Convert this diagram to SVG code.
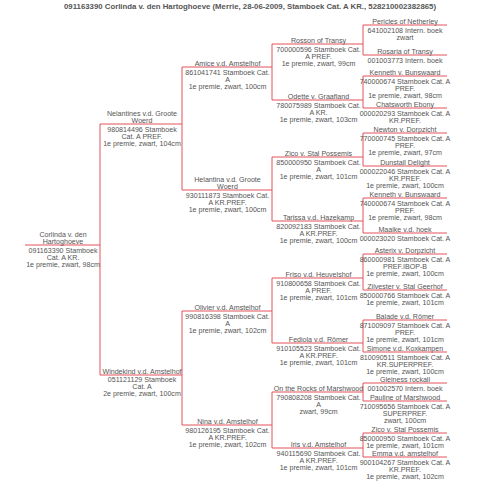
<svg xmlns="http://www.w3.org/2000/svg" width="480" height="490" viewBox="0 0 480 490">
<style>
text{font-family:"Liberation Sans",Arial,sans-serif;font-size:7.1px;fill:#555;text-anchor:middle}
.t{font-weight:bold;font-size:7.8px}
.c line{stroke:#e4535c;stroke-width:1}
</style>
<rect width="480" height="490" fill="#fff"/>
<text class="t" x="250" y="8.6">091163390 Corlinda v. den Hartoghoeve (Merrie, 28-06-2009, Stamboek Cat. A KR., 528210002382865)</text>
<g class="c" id="connectors">
<line x1="25" y1="245" x2="100" y2="245"/>
<line x1="100" y1="124" x2="100" y2="375"/>
<line x1="100" y1="124" x2="182" y2="124"/>
<line x1="100" y1="375" x2="182" y2="375"/>
<line x1="182" y1="67" x2="182" y2="190"/>
<line x1="182" y1="311" x2="182" y2="425"/>
<line x1="182" y1="67" x2="272" y2="67"/>
<line x1="182" y1="190" x2="272" y2="190"/>
<line x1="182" y1="311" x2="272" y2="311"/>
<line x1="182" y1="425" x2="272" y2="425"/>
<line x1="272" y1="44" x2="272" y2="100"/>
<line x1="272" y1="157" x2="272" y2="221"/>
<line x1="272" y1="278" x2="272" y2="343"/>
<line x1="272" y1="392" x2="272" y2="448"/>
<line x1="272" y1="44" x2="363" y2="44"/>
<line x1="272" y1="100" x2="363" y2="100"/>
<line x1="272" y1="157" x2="363" y2="157"/>
<line x1="272" y1="221" x2="363" y2="221"/>
<line x1="272" y1="278" x2="363" y2="278"/>
<line x1="272" y1="343" x2="363" y2="343"/>
<line x1="272" y1="392" x2="363" y2="392"/>
<line x1="272" y1="448" x2="363" y2="448"/>
<line x1="363" y1="25" x2="363" y2="55"/>
<line x1="363" y1="76" x2="363" y2="108"/>
<line x1="363" y1="133" x2="363" y2="166"/>
<line x1="363" y1="198" x2="363" y2="233"/>
<line x1="363" y1="254" x2="363" y2="290"/>
<line x1="363" y1="320" x2="363" y2="352"/>
<line x1="363" y1="383" x2="363" y2="401"/>
<line x1="363" y1="433" x2="363" y2="457"/>
<line x1="363" y1="25" x2="447" y2="25"/>
<line x1="363" y1="55" x2="447" y2="55"/>
<line x1="363" y1="76" x2="447" y2="76"/>
<line x1="363" y1="108" x2="447" y2="108"/>
<line x1="363" y1="133" x2="447" y2="133"/>
<line x1="363" y1="166" x2="447" y2="166"/>
<line x1="363" y1="198" x2="447" y2="198"/>
<line x1="363" y1="233" x2="447" y2="233"/>
<line x1="363" y1="254" x2="447" y2="254"/>
<line x1="363" y1="290" x2="447" y2="290"/>
<line x1="363" y1="320" x2="447" y2="320"/>
<line x1="363" y1="352" x2="447" y2="352"/>
<line x1="363" y1="383" x2="447" y2="383"/>
<line x1="363" y1="401" x2="447" y2="401"/>
<line x1="363" y1="433" x2="447" y2="433"/>
<line x1="363" y1="457" x2="447" y2="457"/>
</g>
<g id="corlinda"><text x="63" y="237.2">Corlinda v. den</text><text x="63" y="244">Hartoghoeve</text><text x="63" y="253">091163390 Stamboek</text><text x="63" y="259.8">Cat. A KR.</text><text x="63" y="266.6">1e premie, zwart, 98cm</text></g>
<g id="nelantines"><text x="142" y="116.2">Nelantines v.d. Groote</text><text x="142" y="123">Woerd</text><text x="142" y="132">980814496 Stamboek</text><text x="142" y="138.8">Cat. A PREF.</text><text x="142" y="145.6">1e premie, zwart, 104cm</text></g>
<g id="windekind"><text x="142" y="374">Windekind v.d. Amstelhof</text><text x="142" y="382">051121129 Stamboek</text><text x="142" y="388.8">Cat. A</text><text x="142" y="395.6">2e premie, zwart, 100cm</text></g>
<g id="amice"><text x="227.5" y="66">Amice v.d. Amstelhof</text><text x="227.5" y="75">861041741 Stamboek Cat.</text><text x="227.5" y="81.8">A</text><text x="227.5" y="88.6">1e premie, zwart, 100cm</text></g>
<g id="helantina"><text x="227.5" y="182.2">Helantina v.d. Groote</text><text x="227.5" y="189">Woerd</text><text x="227.5" y="198">930111873 Stamboek Cat.</text><text x="227.5" y="204.8">A KR.PREF.</text><text x="227.5" y="211.6">1e premie, zwart, 100cm</text></g>
<g id="olivier"><text x="227.5" y="310">Olivier v.d. Amstelhof</text><text x="227.5" y="319">990816398 Stamboek Cat.</text><text x="227.5" y="325.8">A</text><text x="227.5" y="332.6">1e premie, zwart, 102cm</text></g>
<g id="nina"><text x="227.5" y="424">Nina v.d. Amstelhof</text><text x="227.5" y="433">980126195 Stamboek Cat.</text><text x="227.5" y="439.8">A KR.PREF.</text><text x="227.5" y="446.6">1e premie, zwart, 102cm</text></g>
<g id="rosson"><text x="318.5" y="43">Rosson of Transy</text><text x="318.5" y="52">700000596 Stamboek Cat.</text><text x="318.5" y="58.8">A PREF.</text><text x="318.5" y="65.6">1e premie, zwart, 99cm</text></g>
<g id="odette"><text x="318.5" y="99">Odette v. Graafland</text><text x="318.5" y="108">780075989 Stamboek Cat.</text><text x="318.5" y="114.8">A KR.</text><text x="318.5" y="121.6">1e premie, zwart, 103cm</text></g>
<g id="zico"><text x="318.5" y="156">Zico v. Stal Possemis</text><text x="318.5" y="165">850000950 Stamboek Cat.</text><text x="318.5" y="171.8">A</text><text x="318.5" y="178.6">1e premie, zwart, 101cm</text></g>
<g id="tarissa"><text x="318.5" y="220">Tarissa v.d. Hazekamp</text><text x="318.5" y="229">820092183 Stamboek Cat.</text><text x="318.5" y="235.8">A KR.PREF.</text><text x="318.5" y="242.6">1e premie, zwart, 100cm</text></g>
<g id="friso"><text x="318.5" y="277">Friso v.d. Heuvelshof</text><text x="318.5" y="286">910800658 Stamboek Cat.</text><text x="318.5" y="292.8">A PREF.</text><text x="318.5" y="299.6">1e premie, zwart, 101cm</text></g>
<g id="fediola"><text x="318.5" y="342">Fediola v.d. Römer</text><text x="318.5" y="351">910105523 Stamboek Cat.</text><text x="318.5" y="357.8">A KR.PREF.</text><text x="318.5" y="364.6">1e premie, zwart, 101cm</text></g>
<g id="ontherocks"><text x="318.5" y="391">On the Rocks of Marshwood</text><text x="318.5" y="400">790808208 Stamboek Cat.</text><text x="318.5" y="406.8">A</text><text x="318.5" y="413.6">zwart, 99cm</text></g>
<g id="iris"><text x="318.5" y="447">Iris v.d. Amstelhof</text><text x="318.5" y="456">940115690 Stamboek Cat.</text><text x="318.5" y="462.8">A KR.PREF.</text><text x="318.5" y="469.6">1e premie, zwart, 101cm</text></g>
<g id="pericles"><text x="405" y="24">Pericles of Netherley</text><text x="405" y="33">641002108 Intern. boek</text><text x="405" y="39.8">zwart</text></g>
<g id="rosaria"><text x="405" y="54">Rosaria of Transy</text><text x="405" y="63">001003773 Intern. boek</text></g>
<g id="kenneth1"><text x="405" y="75">Kenneth v. Bunswaard</text><text x="405" y="84">740000674 Stamboek Cat. A</text><text x="405" y="90.8">PREF.</text><text x="405" y="97.6">1e premie, zwart, 98cm</text></g>
<g id="chatsworth"><text x="405" y="107">Chatsworth Ebony</text><text x="405" y="116">000020293 Stamboek Cat. A</text><text x="405" y="122.8">KR.PREF.</text></g>
<g id="newton"><text x="405" y="132">Newton v. Dorpzicht</text><text x="405" y="141">770000745 Stamboek Cat. A</text><text x="405" y="147.8">PREF.</text><text x="405" y="154.6">1e premie, zwart, 97cm</text></g>
<g id="dunstall"><text x="405" y="165">Dunstall Delight</text><text x="405" y="174">000022046 Stamboek Cat. A</text><text x="405" y="180.8">KR.PREF.</text><text x="405" y="187.6">1e premie, zwart, 100cm</text></g>
<g id="kenneth2"><text x="405" y="197">Kenneth v. Bunswaard</text><text x="405" y="206">740000674 Stamboek Cat. A</text><text x="405" y="212.8">PREF.</text><text x="405" y="219.6">1e premie, zwart, 98cm</text></g>
<g id="maaike"><text x="405" y="232">Maaike v.d. hoek</text><text x="405" y="241">000023020 Stamboek Cat. A</text></g>
<g id="asterix"><text x="405" y="253">Asterix v. Dorpzicht</text><text x="405" y="262">860000981 Stamboek Cat. A</text><text x="405" y="268.8">PREF.IBOP-B</text><text x="405" y="275.6">1e premie, zwart, 100cm</text></g>
<g id="zilvester"><text x="405" y="289">Zilvester v. Stal Geerhof</text><text x="405" y="298">850000766 Stamboek Cat. A</text><text x="405" y="304.8">1e premie, zwart, 101cm</text></g>
<g id="balade"><text x="405" y="319">Balade v.d. Römer</text><text x="405" y="328">871009097 Stamboek Cat. A</text><text x="405" y="334.8">PREF.</text><text x="405" y="341.6">1e premie, zwart, 101cm</text></g>
<g id="simone"><text x="405" y="351">Simone v.d. Koxkampen</text><text x="405" y="360">810090511 Stamboek Cat. A</text><text x="405" y="366.8">KR.SUPERPREF.</text><text x="405" y="373.6">1e premie, zwart, 100cm</text></g>
<g id="gleiness"><text x="405" y="382">Gleiness rockall</text><text x="405" y="391">001002570 Intern. boek</text></g>
<g id="pauline"><text x="405" y="400">Pauline of Marshwood</text><text x="405" y="409">710095656 Stamboek Cat. A</text><text x="405" y="415.8">SUPERPREF.</text><text x="405" y="422.6">zwart, 100cm</text></g>
<g id="zico2"><text x="405" y="432">Zico v. Stal Possemis</text><text x="405" y="441">850000950 Stamboek Cat. A</text><text x="405" y="447.8">1e premie, zwart, 101cm</text></g>
<g id="emma"><text x="405" y="456">Emma v.d. amstelhof</text><text x="405" y="465">900104267 Stamboek Cat. A</text><text x="405" y="471.8">KR.PREF.</text><text x="405" y="478.6">1e premie, zwart, 102cm</text></g>
</svg>
